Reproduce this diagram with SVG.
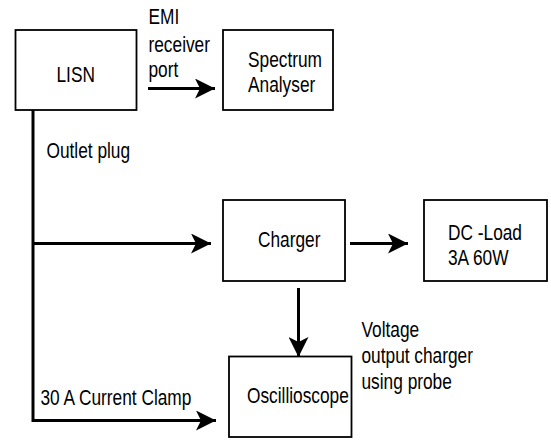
<svg xmlns="http://www.w3.org/2000/svg" width="551" height="440" viewBox="0 0 551 440">
<style>
.box{fill:#fff;stroke:#000;stroke-width:1.8}
.t{font-family:"Liberation Sans",Arial,sans-serif;font-size:17.3px;fill:#000}
.c{fill:none;stroke:#000;stroke-width:3}
</style>
<defs>
<marker id="ah" viewBox="0 0 20 20" refX="20" refY="10" markerWidth="20" markerHeight="20" markerUnits="userSpaceOnUse" orient="auto">
<path d="M0,0 L20,10 L0,20 L5,10 z" fill="#000"/>
</marker>
</defs>
<rect width="551" height="440" fill="#fff"/>
<g id="connectors">
<path class="c" d="M148,88.5 H215" marker-end="url(#ah)"/>
<path class="c" d="M33,110 V420.5 H216" marker-end="url(#ah)"/>
<path class="c" d="M33,243.5 H211" marker-end="url(#ah)"/>
<path class="c" d="M350,243.5 H408" marker-end="url(#ah)"/>
<path class="c" d="M298.5,288 V357" marker-end="url(#ah)"/>
</g>
<g id="lisn">
<rect class="box" x="15.5" y="30" width="121" height="80"/>
<text class="t" transform="translate(56.5,82) scale(1,1.3)">LISN</text>
</g>
<g id="spectrum">
<rect class="box" x="223" y="30" width="110" height="80"/>
<text class="t" transform="translate(248,67) scale(1,1.3)"><tspan x="0">Spectrum</tspan><tspan x="0" dy="19.6">Analyser</tspan></text>
</g>
<g id="charger">
<rect class="box" x="223" y="200" width="122" height="81"/>
<text class="t" transform="translate(258,247) scale(1,1.3)">Charger</text>
</g>
<g id="dcload">
<rect class="box" x="424" y="200" width="123" height="81"/>
<text class="t" transform="translate(448,239.5) scale(1,1.3)"><tspan x="0">DC -Load</tspan><tspan x="0" dy="20">3A 60W</tspan></text>
</g>
<g id="oscilloscope">
<rect class="box" x="229" y="356.5" width="122.5" height="80.5"/>
<text class="t" transform="translate(247,403) scale(1,1.3)">Oscillioscope</text>
</g>
<g id="labels">
<text class="t" transform="translate(148.5,24) scale(1,1.3)"><tspan x="0">EMI</tspan><tspan x="0" dy="21.2">receiver</tspan><tspan x="0" dy="19.6">port</tspan></text>
<text class="t" transform="translate(46.5,158) scale(1,1.3)">Outlet plug</text>
<text class="t" transform="translate(361.5,336.5) scale(1,1.3)"><tspan x="0">Voltage</tspan><tspan x="0" dy="20.2">output charger</tspan><tspan x="0" dy="20.2">using probe</tspan></text>
<text class="t" transform="translate(40.5,405) scale(1,1.3)">30 A Current Clamp</text>
</g>
</svg>
